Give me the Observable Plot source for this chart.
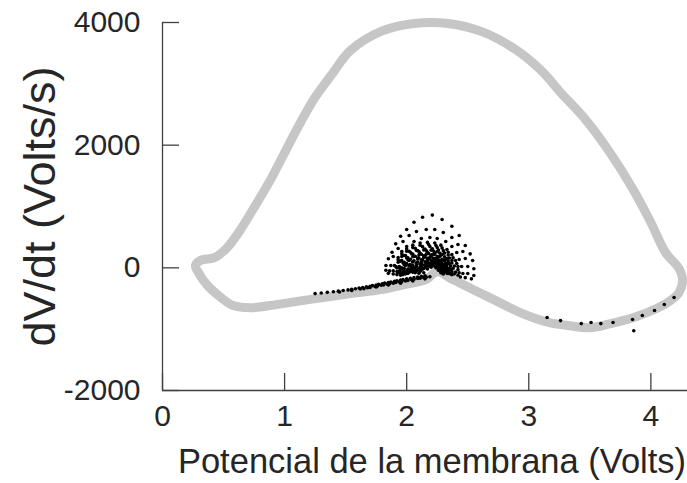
<!DOCTYPE html>
<html>
<head>
<meta charset="utf-8">
<script src="https://cdn.jsdelivr.net/npm/d3@7"></script>
<script src="https://cdn.jsdelivr.net/npm/@observablehq/plot@0.6"></script>
<style>
  body { margin: 0; background: #fff; }
  #chart svg { display: block; }
</style>
</head>
<body>
<div id="chart"></div>
<script>
// Axis ticks
const xTicks = [0, 1, 2, 3, 4];
const yTicks = [-2000, 0, 2000, 4000];

// Limit cycle (gray loop): membrane potential (V) and its derivative (V/s)
const loopV = [0.27, 0.31, 0.43, 0.53, 0.64, 0.76, 0.89, 1.01, 1.13, 1.25, 1.38, 1.54, 1.79, 2.06, 2.34, 2.61, 2.88, 3.10, 3.26, 3.47, 3.67, 3.85, 4.00, 4.12, 4.23, 4.26, 4.23, 4.16, 4.06, 3.86, 3.67, 3.51, 3.32, 3.16, 2.93, 2.73, 2.53, 2.36, 2.25, 2.16, 1.99, 1.79, 1.54, 1.21, 0.93, 0.72, 0.58, 0.48, 0.37, 0.30];
const loopDvdt = [40, 120, 170, 330, 625, 1015, 1455, 1915, 2370, 2780, 3135, 3545, 3855, 3985, 3985, 3855, 3575, 3220, 2860, 2405, 1865, 1295, 740, 250, -10, -205, -405, -535, -650, -810, -910, -975, -940, -890, -730, -535, -340, -175, -60, -190, -270, -355, -420, -515, -600, -650, -615, -485, -290, -95];

// Sampled trajectory (black dots), one array per oscillation around the fixed point
const ring1 = [[1.85,-90],[1.83,-40],[1.83,38],[1.85,147],[1.88,254],[1.91,391],[1.95,515],[2.00,625],[2.06,744],[2.13,825],[2.21,860],[2.29,788],[2.37,678],[2.43,527],[2.48,364],[2.52,228],[2.54,119],[2.55,-16],[2.55,-126],[2.53,-180]];
const ring2 = [[1.89,-100],[1.86,-50],[1.87,38],[1.89,184],[1.93,315],[1.97,429],[2.02,527],[2.08,592],[2.16,625],[2.23,625],[2.30,576],[2.37,494],[2.42,380],[2.46,266],[2.48,152],[2.50,21],[2.50,-93],[2.48,-160]];
const ring3 = [[1.92,-110],[1.89,-50],[1.90,38],[1.93,168],[1.96,266],[2.00,347],[2.06,429],[2.12,478],[2.19,494],[2.25,478],[2.32,429],[2.37,347],[2.41,250],[2.43,135],[2.45,21],[2.46,-93],[2.44,-150]];
const ring4 = [[1.95,-120],[1.92,-60],[1.91,20],[1.93,130],[1.96,230],[2.00,310],[2.05,370],[2.11,405],[2.17,415],[2.23,405],[2.28,370],[2.33,300],[2.37,215],[2.40,120],[2.42,20],[2.43,-80]];
const ring5 = [[1.93,-70],[1.92,0],[1.93,90],[1.96,185],[2.00,270],[2.05,330],[2.11,368],[2.18,380],[2.24,365],[2.29,325],[2.34,255],[2.38,165],[2.41,70],[2.42,-30],[2.42,-120]];
const ring6 = [[1.97,-110],[1.94,-50],[1.93,10],[1.95,110],[1.98,200],[2.02,270],[2.07,320],[2.13,345],[2.19,347],[2.25,330],[2.30,280],[2.34,210],[2.37,120],[2.39,30],[2.40,-70]];
const ring7 = [[1.96,-80],[1.95,-10],[1.97,80],[2.00,160],[2.04,230],[2.09,280],[2.15,308],[2.21,312],[2.26,290],[2.31,240],[2.35,160],[2.37,80],[2.38,-10],[2.39,-100]];
const ring8 = [[1.99,-100],[1.96,0],[1.98,90],[2.01,165],[2.05,225],[2.10,265],[2.16,282],[2.22,275],[2.27,240],[2.31,180],[2.34,110],[2.36,30],[2.37,-60]];
const ring9 = [[1.98,-60],[1.99,40],[2.02,120],[2.06,185],[2.11,235],[2.17,255],[2.23,245],[2.28,205],[2.32,140],[2.34,70],[2.35,-10],[2.36,-90]];
const ring10 = [[2.01,-90],[1.98,-10],[2.00,70],[2.03,140],[2.07,190],[2.12,222],[2.18,233],[2.23,220],[2.27,180],[2.31,120],[2.33,50],[2.35,-30],[2.36,-100]];
const ring11 = [[2.00,-60],[2.02,30],[2.05,100],[2.09,160],[2.14,195],[2.20,205],[2.25,185],[2.29,140],[2.32,80],[2.33,10],[2.34,-60]];
const ring12 = [[2.01,-20],[2.03,55],[2.06,115],[2.10,160],[2.15,182],[2.20,180],[2.25,155],[2.28,110],[2.31,50],[2.33,-20],[2.34,-90]];
const ring13 = [[2.02,-70],[2.04,10],[2.08,80],[2.12,130],[2.17,157],[2.22,155],[2.26,125],[2.29,75],[2.31,15],[2.32,-50]];
const ring14 = [[2.03,-30],[2.05,40],[2.09,95],[2.13,130],[2.18,143],[2.23,130],[2.27,90],[2.30,35],[2.32,-30],[2.33,-90]];
const ring15 = [[2.05,-70],[2.07,0],[2.11,60],[2.15,100],[2.20,118],[2.24,100],[2.28,55],[2.30,0],[2.31,-60]];
const ring16 = [[2.06,-40],[2.08,20],[2.12,70],[2.17,100],[2.22,95],[2.26,60],[2.29,10],[2.31,-50]];
const ring17 = [[2.07,-80],[2.10,-10],[2.13,45],[2.18,80],[2.22,78],[2.26,45],[2.28,-5],[2.30,-70]];
const ring18 = [[2.08,-50],[2.11,10],[2.15,50],[2.20,70],[2.24,55],[2.27,15],[2.29,-40],[2.30,-100]];
const ring19 = [[2.10,-90],[2.13,-20],[2.17,35],[2.21,52],[2.25,30],[2.27,-15],[2.29,-80]];
const ring20 = [[2.11,-60],[2.14,-10],[2.18,25],[2.22,38],[2.25,15],[2.27,-30],[2.28,-80]];
const ring21 = [[1.95,-90],[1.94,20],[1.96,120],[1.99,200],[2.03,255],[2.08,283],[2.14,292],[2.20,288],[2.25,265],[2.29,220],[2.33,150],[2.35,70],[2.36,-20],[2.37,-110]];
const ring22 = [[1.97,-40],[1.98,50],[2.01,130],[2.05,180],[2.10,210],[2.16,222],[2.21,215],[2.26,180],[2.30,125],[2.32,55],[2.33,-30]];
const ring23 = [[2.00,-50],[2.02,40],[2.05,100],[2.09,145],[2.14,168],[2.19,170],[2.24,150],[2.28,105],[2.30,45],[2.32,-25]];
const ring24 = [[2.03,-60],[2.05,15],[2.08,70],[2.12,110],[2.17,130],[2.22,124],[2.26,90],[2.29,40],[2.31,-20]];
const ring25 = [[2.05,-20],[2.08,40],[2.12,80],[2.16,96],[2.21,92],[2.25,65],[2.28,20],[2.30,-40]];
const ring26 = [[2.09,-30],[2.12,20],[2.16,50],[2.20,60],[2.24,45],[2.27,5],[2.29,-50]];
const ring27 = [[2.12,-40],[2.15,5],[2.19,30],[2.23,25],[2.26,-10],[2.28,-60]];
const ring28 = [[2.14,-80],[2.17,-20],[2.20,10],[2.24,0],[2.26,-40]];

// Slow return along the lower branch
const approach = [[1.25,-420],[1.30,-410],[1.35,-400],[1.40,-390],[1.44,-380],[1.48,-370],[1.52,-360],[1.55,-350],[1.58,-340],[1.61,-330],[1.64,-320],[1.67,-310],[1.70,-300],[1.72,-290],[1.75,-280],[1.77,-270],[1.80,-260],[1.82,-250],[1.85,-240],[1.87,-230],[1.90,-220],[1.92,-210],[1.95,-200],[1.97,-190],[2.00,-180],[2.03,-170],[2.06,-160],[2.09,-150],[2.12,-140],[2.15,-130],
  [1.62,-345],[1.68,-325],[1.74,-305],[1.79,-285],[1.84,-265],[1.89,-250],[1.94,-230],[1.99,-215],[2.04,-195],[2.09,-175],[2.14,-160],[2.19,-145],
  [1.70,-320],[1.76,-298],[1.81,-278],[1.86,-258],[1.91,-240],[1.96,-222],[2.01,-205],[2.06,-185],[2.11,-168],[2.16,-152],
  [1.45,-395],[1.55,-368],[1.65,-340],[1.75,-312],[1.85,-280],[1.95,-250],[2.05,-215],[2.15,-180]];

// Scattered samples on the repolarisation branch
const repol = [[3.15,-811],[3.26,-860],[3.43,-909],[3.51,-892],[3.59,-909],[3.69,-892],[3.85,-843],[3.86,-1027],[3.93,-778],[4.03,-696],[4.11,-599],[4.19,-483]];

const loop = loopV.map((v, i) => ({v, dv: loopDvdt[i]}));
const rings = [ring1, ring2, ring3, ring4, ring5, ring6, ring7, ring8, ring9, ring10, ring11, ring12, ring13, ring14,
  ring15, ring16, ring17, ring18, ring19, ring20, ring21, ring22, ring23, ring24, ring25, ring26, ring27, ring28, approach, repol];
const dots = rings.flat().map(([v, dv]) => ({v, dv}));

const W = 687, H = 483;
const mL = 162, mR = 0, mT = 22, mB = 93;
const plotW = W - mL - mR, plotH = H - mT - mB;
const tickLen = 17;
const axisColor = "#404040";
const textColor = "#262626";

const chart = Plot.plot({
  width: W,
  height: H,
  marginLeft: mL,
  marginRight: mR,
  marginTop: mT,
  marginBottom: mB,
  style: {fontFamily: "'Liberation Sans', Arial, sans-serif", color: textColor, background: "#fff"},
  x: {domain: [0, 4.3]},
  y: {domain: [-2000, 4000]},
  marks: [
    Plot.line(loop, {x: "v", y: "dv", curve: "catmull-rom-closed", stroke: "#c6c6c6", strokeWidth: 9, strokeLinejoin: "round"}),
    Plot.dot(dots, {x: "v", y: "dv", r: 1.8, fill: "#000", stroke: null}),
    Plot.ruleX([0], {stroke: axisColor, strokeWidth: 1.3}),
    Plot.ruleY([-2000], {stroke: axisColor, strokeWidth: 1.3}),
    Plot.tickY(yTicks, {y: d => d, insetRight: plotW - tickLen, stroke: axisColor, strokeWidth: 1.3}),
    Plot.tickX(xTicks, {x: d => d, insetTop: plotH - tickLen, stroke: axisColor, strokeWidth: 1.3}),
    Plot.axisX(xTicks, {tickSize: 0, tickPadding: 14, fontSize: 30, label: null, tickFormat: d => String(d)}),
    Plot.axisY(yTicks, {tickSize: 0, tickPadding: 22, fontSize: 30, label: null, tickFormat: d => String(d)}),
    Plot.text(["Potencial de la membrana (Volts)"], {frameAnchor: "bottom", dx: 7, dy: 82, fontSize: 34.5, fill: textColor}),
    Plot.text(["dV/dt (Volts/s)"], {frameAnchor: "left", textAnchor: "middle", dx: -122, rotate: -90, fontSize: 45, fill: textColor})
  ]
});

document.getElementById("chart").appendChild(chart);
</script>
</body>
</html>
